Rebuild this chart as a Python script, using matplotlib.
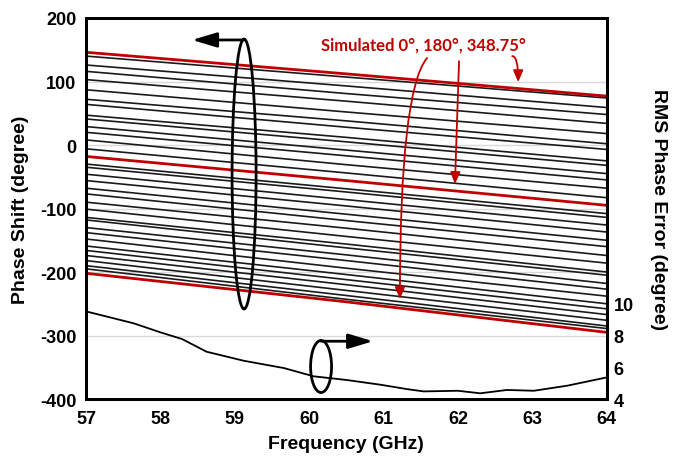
import matplotlib
matplotlib.use('Agg')
import matplotlib.pyplot as plt
from matplotlib.patches import Ellipse

# measured phase of the 32 states, read at 57, 60.5 and 64 GHz
freq_pts = [57, 60.5, 64]
phase_57 = [140, 126, 116, 103, 87, 72, 64, 47, 41, 29, 20, 8, -6, -30, -35, -46,
            -56, -68, -77, -90, -101, -114, -118, -130, -138, -148, -159, -166,
            -174, -182, -190, -195]
phase_60 = [107, 93, 81, 69, 52, 38, 28, 12, 5, -8, -17, -31, -44, -69, -74, -86,
            -96, -109, -119, -131, -144, -156, -162, -173, -182, -194, -204, -212,
            -220, -229, -237, -243]
phase_64 = [74, 59, 48, 34, 18, 2, -7, -25, -32, -45, -55, -68, -83, -108, -114, -126,
            -137, -150, -160, -174, -186, -200, -205, -218, -227, -238, -250, -258,
            -267, -276, -285, -289]

# simulated 0, 180, 348.75 deg
sim_0 = [146, 112, 77]
sim_180 = [-18, -56, -95]
sim_348 = [-202, -247, -295]

# rms phase error
rms_freq = [57, 57.64, 58.0, 58.29, 58.62, 59.12, 59.66, 60.06, 60.5, 60.96, 61.32,
            61.54, 62.0, 62.3, 62.66, 63.02, 63.47, 64]
rms_err = [9.52, 8.77, 8.2, 7.78, 6.98, 6.41, 5.95, 5.43, 5.2, 4.9, 4.62,
           4.48, 4.52, 4.36, 4.57, 4.52, 4.84, 5.36]

plt.rcParams['font.family'] = ['Liberation Sans', 'DejaVu Sans']
plt.rcParams['font.weight'] = 'bold'
plt.rcParams['axes.labelweight'] = 'bold'
plt.rcParams['axes.unicode_minus'] = False

red = '#c00000'

fig = plt.figure(figsize=(6.8, 4.6), dpi=100)
ax = fig.add_axes([0.1265, 0.1304, 0.7657, 0.8283])
ax2 = ax.twinx()

for i in range(len(phase_57)):
    ax.plot(freq_pts, [phase_57[i], phase_60[i], phase_64[i]], color='#1a1a1a', lw=1.2)

for s in (sim_0, sim_180, sim_348):
    ax.plot(freq_pts, s, color=red, lw=2)

ax2.plot(rms_freq, rms_err, color='black', lw=1.3)

ax.set_xlim(57, 64)
ax.set_ylim(-400, 200)
ax.set_yticks(range(-400, 201, 100))
ax.set_xticks(range(57, 65))
ax2.set_ylim(4, 28)
ax2.set_yticks([4, 6, 8, 10])

ax.grid(axis='y', color='#d9d9d9', lw=1)
ax.set_axisbelow(True)

ax.tick_params(length=0, labelsize=13, pad=7)
ax.tick_params(axis='x', pad=8)
ax2.tick_params(length=0, labelsize=13, pad=5)

ax.set_xlabel('Frequency (GHz)', fontsize=14, labelpad=6)
ax.set_ylabel('Phase Shift (degree)', fontsize=14, labelpad=8)
ax2.set_ylabel('RMS Phase Error (degree)', fontsize=14, rotation=270, va='bottom', labelpad=12)

for a in (ax, ax2):
    for sp in a.spines.values():
        sp.set_linewidth(2)
        sp.set_color('black')

# ellipses and arrows
ax.add_patch(Ellipse((59.125, -45.7), 0.323, 425, fill=False, lw=2, ec='black', zorder=5))
ax.add_patch(Ellipse((60.16, -348.8), 0.282, 82, fill=False, lw=2, ec='black', zorder=5))
ax.annotate('', xy=(58.425, 165.4), xytext=(59.125, 165.4),
            arrowprops=dict(arrowstyle='-|>,head_length=1.5,head_width=0.45', lw=2,
                            color='black', mutation_scale=10, shrinkA=0, shrinkB=0))
ax.annotate('', xy=(60.86, -309), xytext=(60.16, -309),
            arrowprops=dict(arrowstyle='-|>,head_length=1.5,head_width=0.45', lw=2,
                            color='black', mutation_scale=10, shrinkA=0, shrinkB=0))

ax.text(61.54, 157.5, 'Simulated 0°, 180°, 348.75°', color=red, fontsize=12,
        fontweight='bold', family=['Lato', 'DejaVu Sans'], ha='center', va='center')
red_arrow = '-|>,head_length=0.7,head_width=0.3'
ax.annotate('', xy=(61.22, -242.5), xytext=(61.585, 137),
            arrowprops=dict(arrowstyle=red_arrow, lw=1.3, color=red, mutation_scale=10,
                            shrinkA=0, shrinkB=0,
                            connectionstyle='angle3,angleA=-130,angleB=90'))
ax.annotate('', xy=(61.96, -61.4), xytext=(62.015, 132),
            arrowprops=dict(arrowstyle=red_arrow, lw=1.3, color=red, mutation_scale=10,
                            shrinkA=0, shrinkB=0))
ax.annotate('', xy=(62.81, 99), xytext=(62.73, 140),
            arrowprops=dict(arrowstyle=red_arrow, lw=1.3, color=red, mutation_scale=10,
                            shrinkA=0, shrinkB=0,
                            connectionstyle='angle3,angleA=0,angleB=90'))

fig.savefig('out.png', dpi=100)
